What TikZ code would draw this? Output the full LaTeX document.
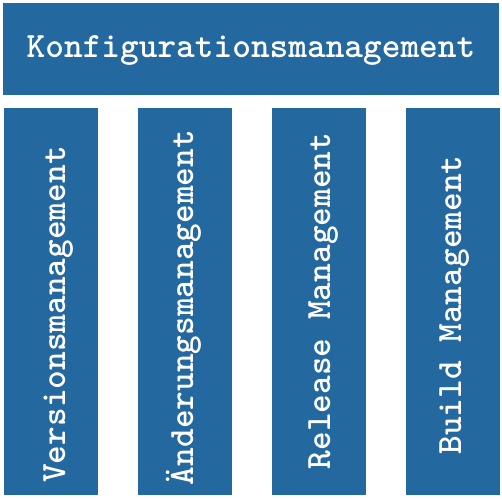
\documentclass[tikz,border=0pt]{standalone}
\usepackage{fontspec}
\newfontfamily\monof{lmmonolt10-bold.otf}
\definecolor{barblue}{RGB}{35,104,158}
\begin{document}
\begin{tikzpicture}[x=1pt,y=-1pt,
  bar/.style={fill=barblue,draw=none,inner sep=0pt,outer sep=0pt,minimum width=#1},
  lbl/.style={text=white,font=\monof\fontsize{35.6}{35.6}\selectfont,inner sep=0pt},
  vlbl/.style={lbl,rotate=90,anchor=base}]
\fill[white] (0,0) rectangle (502,498);
\useasboundingbox (0,0) rectangle (502,498);
\node[bar=496pt,minimum height=92pt] (top) at (251,49) {};
\node[bar=94pt,minimum height=387pt] (c1) at (51,301.5) {};
\node[bar=94pt,minimum height=387pt] (c2) at (185,301.5) {};
\node[bar=94pt,minimum height=387pt] (c3) at (319,301.5) {};
\node[bar=94pt,minimum height=387pt] (c4) at (452.5,301.5) {};
\node[lbl,anchor=base] (ttop) at (251,57) {Konfigurationsmanagement};
\node[vlbl] (t1) at (65,314.5) {Versionsmanagement};
\node[vlbl] (t2) at (193,307.5) {Änderungsmanagement};
\node[vlbl] (t3) at (330,301) {Release Management};
\node[vlbl] (t4) at (461,305) {Build Management};
\end{tikzpicture}
\end{document}
